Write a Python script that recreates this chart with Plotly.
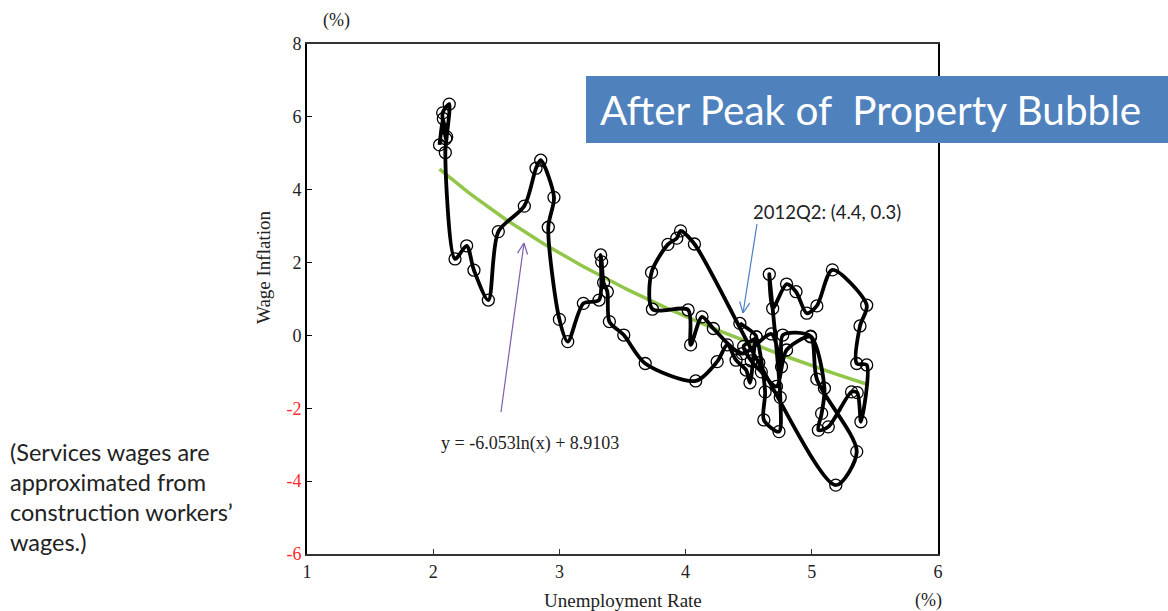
import numpy as np
import plotly.graph_objects as go

# Unemployment rate (%) and wage inflation (%), in path order
unemployment = [2.05, 2.08, 2.10, 2.075, 2.127, 2.107, 2.096, 2.173, 2.265, 2.323, 2.437, 2.516, 2.722, 2.815,
                2.852, 2.957, 2.912, 3.000, 3.066, 3.190, 3.314, 3.327, 3.335, 3.350, 3.380, 3.396, 3.510, 3.680,
                4.080, 4.250, 4.330,
                4.400, 4.480, 4.510, 4.560, 4.630, 4.620, 4.740, 4.750, 4.663, 4.690, 4.800, 4.875, 4.960, 5.040,
                5.163, 5.435, 5.382, 5.356, 5.435, 5.389, 5.360, 5.315, 5.131, 5.052, 5.078, 5.100, 4.990, 4.770,
                4.760, 4.680,
                4.450, 4.220, 4.130, 4.040, 4.020, 3.737, 3.730, 3.860, 3.930, 3.960, 4.070,
                4.580, 5.190, 5.356, 5.040, 4.990, 4.800, 4.720, 4.600, 4.520, 4.460, 4.560, 4.430]
wage_inflation = [5.23, 5.95, 5.40, 6.11, 6.35, 5.45, 5.02, 2.10, 2.46, 1.79, 0.97, 2.85, 3.55, 4.59,
                  4.81, 3.79, 2.97, 0.44, -0.17, 0.88, 0.97, 2.21, 2.02, 1.45, 1.20, 0.38, 0.01, -0.77,
                  -1.25, -0.72, -0.26,
                  -0.68, -0.95, -1.30, -0.04, -1.55, -2.32, -2.64, -1.70, 1.68, 0.74, 1.41, 1.20, 0.61, 0.81,
                  1.80, 0.83, 0.26, -0.77, -0.81, -2.37, -1.57, -1.55, -2.51, -2.60, -2.14, -1.45, -0.02, 0.01,
                  -0.86, 0.04,
                  -0.50, 0.19, 0.51, -0.26, 0.70, 0.72, 1.73, 2.50, 2.67, 2.87, 2.51,
                  -0.75, -4.11, -3.19, -1.20, -0.04, -0.40, -1.40, -1.00, -0.70, -0.30, -0.04, 0.33]

# Logarithmic trend shown on the chart: y = -6.053 ln(x) + 8.9103
trend_a = -6.053
trend_b = 8.9103
trend_x_range = [2.05, 5.45]

x_ticks = [1, 2, 3, 4, 5, 6]
y_ticks = [8, 6, 4, 2, 0, -2, -4, -6]

trend_x = np.linspace(trend_x_range[0], trend_x_range[1], 120)
trend_y = trend_a * np.log(trend_x) + trend_b

# pixel -> paper helpers (plot area 307..938 x 44..554)
L, R, T, B = 307, 938, 44, 554
def px(v):
    return (v - L) / (R - L)
def py(v):
    return (B - v) / (B - T)

fig = go.Figure()
fig.add_trace(go.Scatter(x=trend_x, y=trend_y, mode="lines",
                         line=dict(color="#92C64B", width=3.5), hoverinfo="skip", showlegend=False))
fig.add_trace(go.Scatter(x=unemployment, y=wage_inflation, mode="lines+markers",
                         line=dict(color="black", width=3.8, shape="spline", smoothing=0.8),
                         marker=dict(symbol="circle-open", size=12, color="black", line=dict(width=1.3)),
                         showlegend=False))

ytext = []
for v in y_ticks:
    if v < 0:
        ytext.append('<span style="color:#FF2A2A">%d</span>' % v)
    else:
        ytext.append(str(v))

serif = "Liberation Serif"
fig.update_layout(
    width=1168, height=611,
    margin=dict(l=L, r=1168 - R, t=T, b=611 - B),
    paper_bgcolor="white", plot_bgcolor="white",
    xaxis=dict(range=[1, 6], tickvals=x_ticks, ticktext=[str(v) for v in x_ticks],
               showgrid=False, zeroline=False, showline=True, linecolor="#333", linewidth=2,
               mirror=True, ticks="inside", ticklen=5, tickcolor="#333",
               tickfont=dict(family=serif, size=18, color="#222")),
    yaxis=dict(range=[-6, 8], tickvals=y_ticks, ticktext=ytext,
               showgrid=False, zeroline=False, showline=True, linecolor="black", linewidth=2,
               mirror=True, ticks="inside", ticklen=5, tickcolor="black",
               tickfont=dict(family=serif, size=18, color="#222")),
)

anns = []
def add_text(text, x, y, size, family, color="#222", xanchor="center", textangle=0):
    anns.append(dict(text=text, x=px(x), y=py(y), xref="paper", yref="paper", showarrow=False,
                     xanchor=xanchor, yanchor="middle", textangle=textangle,
                     font=dict(family=family, size=size, color=color)))

add_text("(%)", 336, 21, 18, serif)
add_text("(%)", 928, 600, 18, serif)
add_text("Unemployment Rate", 623, 600, 19, serif)
add_text("Wage Inflation", 263, 268, 19, serif, textangle=-90)
add_text("y = -6.053ln(x) + 8.9103", 530, 443, 18, serif)
add_text("2012Q2: (4.4, 0.3)", 751, 212, 18.5, "Lato", xanchor="left")
for i, line in enumerate(["(Services wages are", "approximated from",
                          "construction workers\u2019", "wages.)"]):
    add_text(line, 8, 452 + i * 30, 23.5, "Lato", xanchor="left")
add_text("After Peak of  Property Bubble", 598, 110, 40.5, "Lato", color="white", xanchor="left")

shapes = [dict(type="rect", xref="paper", yref="paper", x0=px(586), x1=px(1175), y0=py(143), y1=py(76),
               fillcolor="#4F81BD", line=dict(width=0), layer="above")]

def arrow(tail, tip, color, head=12, ang=25):
    tx, ty = tail
    hx, hy = tip
    d = np.array([hx - tx, hy - ty], dtype=float)
    d /= np.linalg.norm(d)
    out = [dict(type="line", xref="paper", yref="paper", x0=px(tx), y0=py(ty), x1=px(hx), y1=py(hy),
                line=dict(color=color, width=1.2), layer="above")]
    for s in (1, -1):
        a = np.radians(ang) * s
        ca, sa = np.cos(a), np.sin(a)
        bx, by = -d[0], -d[1]
        rx = bx * ca - by * sa
        ry = bx * sa + by * ca
        ex, ey = hx + head * rx, hy + head * ry
        out.append(dict(type="line", xref="paper", yref="paper", x0=px(hx), y0=py(hy), x1=px(ex), y1=py(ey),
                        line=dict(color=color, width=1.2), layer="above"))
    return out

shapes += arrow((757, 224), (743, 313), "#4A7EC8")
shapes += arrow((501, 412), (524, 243), "#7E5FA8")

fig.update_layout(annotations=anns, shapes=shapes)
fig.write_html("out.html", config={"displayModeBar": False},
               post_script="document.body.style.margin='0';document.body.style.overflow='hidden';")
